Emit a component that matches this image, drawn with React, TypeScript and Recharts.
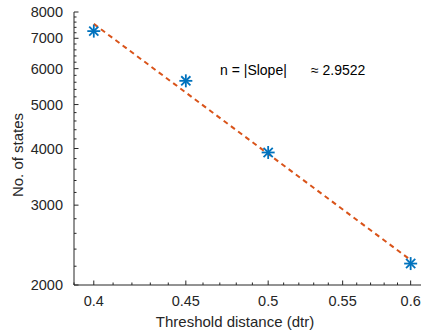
import { ScatterChart, Scatter, XAxis, YAxis } from 'recharts'

const thresholds = [0.4, 0.45, 0.5, 0.6]
const states = [7260, 5640, 3920, 2230]

// fitted power law, endpoints
const fitX = [0.4, 0.6]
const fitY = [7530, 2270]

const xMajor = [0.4, 0.45, 0.5, 0.55, 0.6]
const xMinor = [0.39, 0.41, 0.42, 0.43, 0.44, 0.46, 0.47, 0.48, 0.49, 0.51, 0.52, 0.53, 0.54, 0.56, 0.57, 0.58, 0.59]
const yMajor = [2000, 3000, 4000, 5000, 6000, 7000, 8000]
const yMinor = [
  2200, 2400, 2600, 2800, 3200, 3400, 3600, 3800, 4200, 4400, 4600, 4800,
  5200, 5400, 5600, 5800, 6200, 6400, 6600, 6800, 7200, 7400, 7600, 7800,
]

const points = thresholds.map((x, i) => ({ x, y: states[i] }))
const fit = fitX.map((x, i) => ({ x, y: fitY[i] }))

const AXIS = '#262626'
const FONT = '"Liberation Sans", Arial, sans-serif'

const isMajor = (list: number[], v: number) => list.some(m => Math.abs(m - v) < 1e-9)

function Asterisk(props: any) {
  const { cx, cy } = props
  const r = 6.5
  const d = r * 0.707
  return (
    <g stroke="#0072BD" strokeWidth={1.8}>
      <line x1={cx - r} y1={cy} x2={cx + r} y2={cy} />
      <line x1={cx} y1={cy - r} x2={cx} y2={cy + r} />
      <line x1={cx - d} y1={cy - d} x2={cx + d} y2={cy + d} />
      <line x1={cx - d} y1={cy + d} x2={cx + d} y2={cy - d} />
    </g>
  )
}

function BottomTick({ x, y, payload }: any) {
  const major = isMajor(xMajor, payload.value)
  return (
    <g>
      <line x1={x} y1={y} x2={x} y2={y - (major ? 4.5 : 2.5)} stroke={AXIS} />
      {major && (
        <text x={x} y={y + 21} textAnchor="middle" fontSize={14.5} fill={AXIS} fontFamily={FONT}>
          {payload.value}
        </text>
      )}
    </g>
  )
}

function TopTick({ x, y, payload }: any) {
  const major = isMajor(xMajor, payload.value)
  return <line x1={x} y1={y} x2={x} y2={y + (major ? 4.5 : 2.5)} stroke={AXIS} />
}

function LeftTick({ x, y, payload }: any) {
  const major = isMajor(yMajor, payload.value)
  return (
    <g>
      <line x1={x} y1={y} x2={x + (major ? 4.5 : 2.5)} y2={y} stroke={AXIS} />
      {major && (
        <text x={x - 11} y={y + 5} textAnchor="end" fontSize={14.5} fill={AXIS} fontFamily={FONT}>
          {payload.value}
        </text>
      )}
    </g>
  )
}

function RightTick({ x, y, payload }: any) {
  const major = isMajor(yMajor, payload.value)
  return <line x1={x} y1={y} x2={x - (major ? 4.5 : 2.5)} y2={y} stroke={AXIS} />
}

const xTicks = [...xMajor, ...xMinor].sort((a, b) => a - b)
const yTicks = [...yMajor, ...yMinor].sort((a, b) => a - b)

export default function App() {
  return (
    <div style={{ position: 'absolute', left: 0, top: 0, background: '#fff' }}>
      <ScatterChart width={422} height={334} margin={{ top: 12, right: 1, left: 0, bottom: 0 }}>
        <XAxis
          xAxisId="b"
          dataKey="x"
          type="number"
          scale="log"
          domain={[0.39, 0.608]}
          allowDataOverflow
          ticks={xTicks}
          interval={0}
          tick={<BottomTick />}
          tickSize={0}
          tickMargin={0}
          tickLine={false}
          height={49}
          axisLine={{ stroke: AXIS }}
        />
        <XAxis
          xAxisId="t"
          orientation="top"
          dataKey="x"
          type="number"
          scale="log"
          domain={[0.39, 0.608]}
          allowDataOverflow
          ticks={xTicks}
          interval={0}
          tick={<TopTick />}
          tickSize={0}
          tickMargin={0}
          tickLine={false}
          height={0}
          axisLine={{ stroke: AXIS }}
        />
        <YAxis
          yAxisId="l"
          dataKey="y"
          type="number"
          scale="log"
          domain={[2000, 8000]}
          allowDataOverflow
          ticks={yTicks}
          interval={0}
          tick={<LeftTick />}
          tickSize={0}
          tickMargin={0}
          tickLine={false}
          width={74}
          axisLine={{ stroke: AXIS }}
        />
        <YAxis
          yAxisId="r"
          orientation="right"
          dataKey="y"
          type="number"
          scale="log"
          domain={[2000, 8000]}
          allowDataOverflow
          ticks={yTicks}
          interval={0}
          tick={<RightTick />}
          tickSize={0}
          tickMargin={0}
          tickLine={false}
          width={0}
          axisLine={{ stroke: AXIS }}
        />
        <Scatter
          xAxisId="b"
          yAxisId="l"
          data={fit}
          line={{ stroke: '#D95319', strokeWidth: 2, strokeDasharray: '5 4' }}
          shape={() => <g />}
          isAnimationActive={false}
        />
        <Scatter
          xAxisId="b"
          yAxisId="l"
          data={points}
          shape={<Asterisk />}
          isAnimationActive={false}
        />
        <text x={220} y={75} fontSize={14} fill="#000" fontFamily={FONT}>
          n = |Slope|
        </text>
        <text x={311} y={75} fontSize={14} fill="#000" fontFamily={FONT}>
          ≈ 2.9522
        </text>
        <text x={235} y={327} textAnchor="middle" fontSize={15} fill={AXIS} fontFamily={FONT}>
          Threshold distance (dtr)
        </text>
        <text
          x={23}
          y={155}
          textAnchor="middle"
          fontSize={15}
          fill={AXIS}
          fontFamily={FONT}
          transform="rotate(-90 23 155)"
        >
          No. of states
        </text>
      </ScatterChart>
    </div>
  )
}
